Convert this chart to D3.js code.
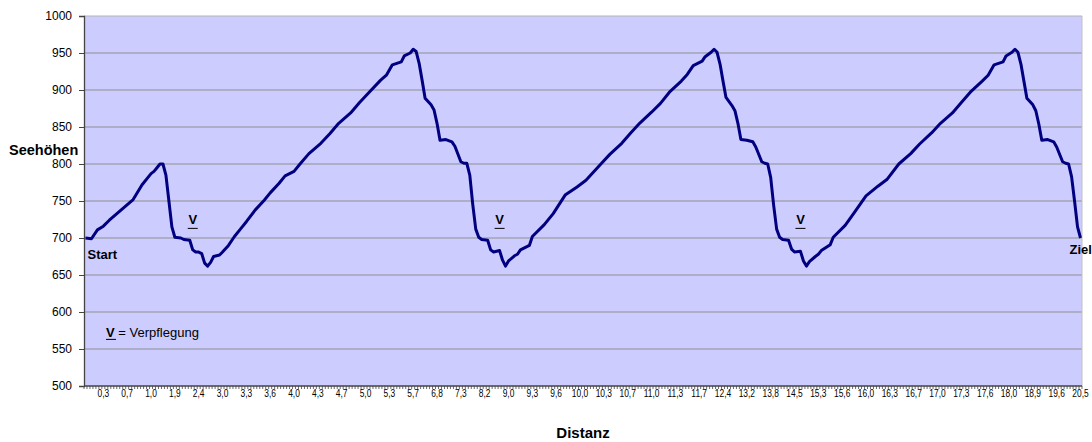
<!DOCTYPE html>
<html>
<head>
<meta charset="utf-8">
<script src="https://cdn.jsdelivr.net/npm/d3@7"></script>
<style>
  body { margin: 0; background: #fff; }
  text { font-family: "Liberation Sans", Arial, sans-serif; }
</style>
</head>
<body>
<script>
// Distanz-Beschriftung (jede 8. Kategorie beschriftet)
const distanzLabels = ["0,3","0,7","1,0","1,9","2,4","3,0","3,3","3,6","4,0","4,3","4,7","5,0","5,3","5,7",
  "6,8","7,3","8,2","9,0","9,3","9,6","10,0","10,3","10,7","11,0","11,3","11,7","12,4","13,2","13,8",
  "14,5","15,3","15,6","16,0","16,3","16,7","17,0","17,3","17,6","18,0","18,9","19,6","20,5"]
const anzahlKategorien = 335
const labelStart = 6
const labelStep = 8
const yTicks = [500, 550, 600, 650, 700, 750, 800, 850, 900, 950, 1000]

// Seehöhen je Kategorie-Index [index, höhe]
const startStueck = [[0,700],[2,699],[4,711],[6,716],[8,724],[12,738],[16,752],[19,772],[22,787],[23,790],
  [24,795],[25,800],[26,800],[27,785],[28,750],[29,715],[30,701],[32,700],[33,698],[35,697],[36,684],
  [37,681],[38,681],[39,679],[40,666],[41,662],[42,667],[43,675],[45,677],[46,681],[48,690],[50,702],
  [52,712],[54,722],[57,738],[60,751],[62,761],[65,774],[67,784],[70,790],[72,800]]
const runde1 = [[75,814],[79,828],[82,841],[85,855],[89,869],[92,883],[95,896],[99,913],[101,920],
  [103,934],[106,938],[107,946],[109,950],[110,955],[111,952],[112,936],[113,913],[114,889],[116,880],
  [117,873],[118,855],[119,832],[121,833],[123,830],[124,824],[126,803],[127,801],[128,801],[129,785],
  [130,745],[131,712],[132,701],[133,698],[135,697],[136,684],[137,681],[139,683],[140,670],[141,662],
  [142,669],[144,676],[145,678],[146,684],[149,690],[150,702],[154,718],[157,733],[161,758],[165,769],
  [168,778],[173,800]]
const runde2 = [[176,813],[180,828],[183,842],[186,855],[190,870],[193,882],[196,897],[200,912],[202,921],
  [204,933],[207,939],[208,945],[210,951],[211,955],[212,951],[213,935],[214,912],[215,890],[217,879],
  [218,872],[219,855],[220,833],[222,832],[224,830],[225,823],[227,803],[228,801],[229,800],[230,782],
  [231,744],[232,712],[233,701],[234,698],[236,697],[237,685],[238,681],[240,682],[241,669],[242,662],
  [243,668],[245,675],[246,678],[247,683],[250,691],[251,701],[255,717],[258,734],[262,757],[266,770],
  [269,779],[273,800]]
const runde3 = [[277,814],[280,827],[284,842],[287,855],[291,869],[294,883],[297,897],[301,912],[303,920],
  [305,934],[308,938],[309,946],[311,951],[312,955],[313,951],[314,935],[315,912],[316,889],[318,880],
  [319,872],[320,854],[321,832],[323,833],[325,830],[326,823],[328,803],[329,801],[330,800],[331,783],
  [332,750],[333,715],[334,700]]
const verpflegung = [36, 139, 240]

const profil = startStueck.concat(runde1, runde2, runde3)

const margin = {top: 16, right: 10, bottom: 56, left: 84}
const width = 1092 - margin.left - margin.right
const height = 442 - margin.top - margin.bottom

const svg = d3.select("body").append("svg")
    .attr("width", 1092)
    .attr("height", 442)

const g = svg.append("g")
    .attr("transform", "translate(" + margin.left + "," + margin.top + ")")

const x = d3.scaleBand()
    .domain(d3.range(anzahlKategorien))
    .range([0, width])
const cx = i => x(i) + x.bandwidth() / 2

const y = d3.scaleLinear()
    .domain([500, 1000])
    .range([height, 0])

// plot area
g.append("rect")
    .attr("width", width)
    .attr("height", height)
    .attr("fill", "#ccccff")

// gridlines
g.selectAll(".grid")
    .data(yTicks.slice(1))
    .enter().append("line")
    .attr("x1", 0).attr("x2", width)
    .attr("y1", d => y(d)).attr("y2", d => y(d))
    .attr("stroke", d => d == 1000 ? "#b4b4b4" : "#8f8f8f")
    .attr("stroke-width", 1)

g.append("line")
    .attr("x1", width).attr("x2", width)
    .attr("y1", 0).attr("y2", height)
    .attr("stroke", "#c0c0c0")

// y axis
const yAxis = g.append("g")
    .call(d3.axisLeft(y).tickValues(yTicks).tickFormat(d3.format("d")).tickSize(5).tickPadding(7))
yAxis.select(".domain").attr("stroke", "#444").attr("stroke-width", 1.3)
yAxis.selectAll(".tick line").attr("stroke", "#444")
yAxis.selectAll(".tick text")
    .attr("font-size", "12px")
    .attr("fill", "#000")
    .style("font-family", "'Liberation Sans', Arial, sans-serif")

// x axis (ticks an den Kategoriegrenzen)
g.append("line")
    .attr("x1", 0).attr("x2", width)
    .attr("y1", height).attr("y2", height)
    .attr("stroke", "#444").attr("stroke-width", 1.3)

g.selectAll(".xtick")
    .data(d3.range(anzahlKategorien + 1))
    .enter().append("line")
    .attr("x1", d => d < anzahlKategorien ? x(d) : width)
    .attr("x2", d => d < anzahlKategorien ? x(d) : width)
    .attr("y1", height).attr("y2", height + 3)
    .attr("stroke", "#444")
    .attr("stroke-width", 0.8)

g.selectAll(".xlabel")
    .data(distanzLabels)
    .enter().append("text")
    .attr("transform", (d, i) => "translate(" + cx(labelStart + i * labelStep) + "," + (height + 11) + ") scale(0.8,1)")
    .attr("text-anchor", "middle")
    .attr("font-size", "10.5px")
    .text(d => d)

// line
const line = d3.line()
    .x(d => cx(d[0]))
    .y(d => y(d[1]))

g.append("path")
    .datum(profil)
    .attr("fill", "none")
    .attr("stroke", "#000080")
    .attr("stroke-width", 3)
    .attr("stroke-linejoin", "round")
    .attr("d", line)

// annotations
g.append("text")
    .attr("x", cx(0) + 2)
    .attr("y", y(671))
    .attr("font-size", "13px")
    .attr("font-weight", "bold")
    .text("Start")

g.append("text")
    .attr("x", cx(anzahlKategorien - 1) - 11)
    .attr("y", y(678))
    .attr("font-size", "13px")
    .attr("font-weight", "bold")
    .text("Ziel")

verpflegung.forEach(i => {
    g.append("text")
        .attr("x", cx(i))
        .attr("y", y(719))
        .attr("text-anchor", "middle")
        .attr("font-size", "13px")
        .attr("font-weight", "bold")
        .text("V")
    g.append("line")
        .attr("x1", cx(i) - 5).attr("x2", cx(i) + 5)
        .attr("y1", y(713)).attr("y2", y(713))
        .attr("stroke", "#000").attr("stroke-width", 1)
})

// legende V = Verpflegung
const leg = g.append("text")
    .attr("x", 22)
    .attr("y", y(566))
    .attr("font-size", "13px")
leg.append("tspan").attr("font-weight", "bold").text("V")
leg.append("tspan").text(" = Verpflegung")
g.append("line")
    .attr("x1", 22).attr("x2", 32)
    .attr("y1", y(563)).attr("y2", y(563))
    .attr("stroke", "#000").attr("stroke-width", 1)

// axis titles
svg.append("text")
    .attr("x", 9)
    .attr("y", 155)
    .attr("font-size", "14.5px")
    .attr("font-weight", "bold")
    .text("Seehöhen")

svg.append("text")
    .attr("x", margin.left + width / 2)
    .attr("y", 438)
    .attr("text-anchor", "middle")
    .attr("font-size", "15px")
    .attr("font-weight", "bold")
    .text("Distanz")
</script>
</body>
</html>
